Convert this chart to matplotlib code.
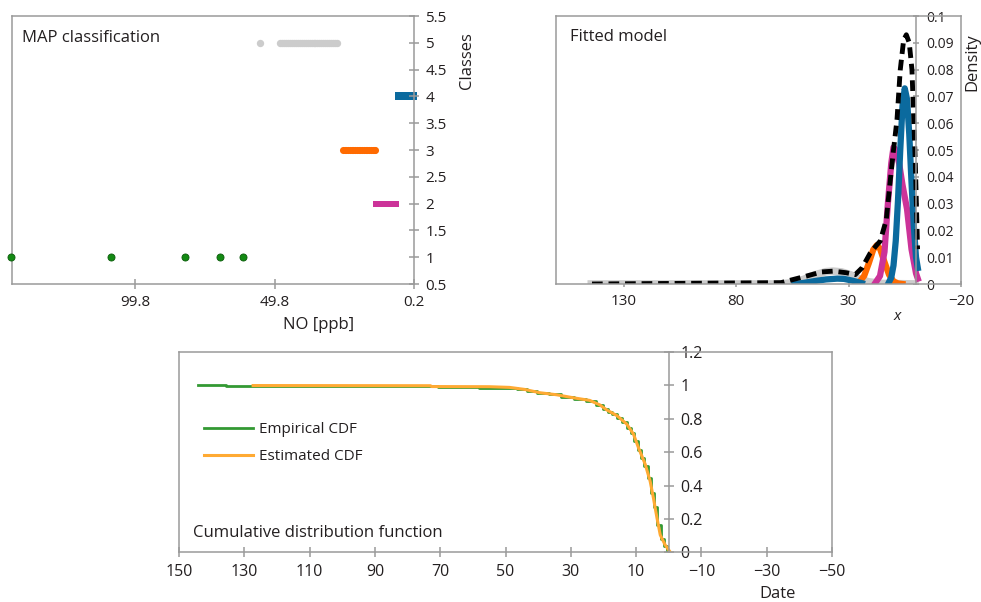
import matplotlib
matplotlib.use("Agg")
import matplotlib.pyplot as plt

plt.rcParams['font.family'] = ['Open Sans', 'DejaVu Sans']

# --- MAP classification (NO in ppb, per class) ---
class1_no = [144.1, 108.4, 82.0, 69.5, 61.2]
class2_no = [13.7, 13.1, 12.4, 11.8, 11.1, 10.5, 9.8, 9.2, 8.5, 7.9, 7.3, 6.7]
class3_no = [25.6, 25.0, 24.4, 23.8, 23.1, 22.5, 21.9, 21.3, 20.6, 20.0,
             19.4, 18.8, 18.1, 17.5, 16.9, 16.3, 15.6, 15.0, 14.4, 14.1]
class4_no = [5.5, 5.0, 4.6, 4.1, 3.6, 3.2, 2.7, 2.3, 1.8, 1.4, 0.9, 0.5]
class5_no = [55.2, 48.0, 47.3, 46.6, 45.9, 45.2, 44.5, 43.8, 43.1, 42.4,
             41.7, 41.0, 40.3, 39.6, 38.9, 38.2, 37.5, 36.8, 36.1, 35.4,
             34.7, 34.0, 33.3, 32.6, 31.9, 31.2, 30.5, 29.8, 29.1, 28.4, 27.7]

# --- fitted model densities ---
gray_x = [146, 60, 55, 50, 45, 40, 37, 33, 29, 25, 21, 15, -1.2]
gray_y = [0, 0, 0.0005, 0.0017, 0.0034, 0.0046, 0.0048, 0.0045, 0.0034,
          0.0018, 0.0008, 0.0002, 0]
blue_small_x = [54, 50, 45, 40, 35, 32, 28, 24]
blue_small_y = [0, 0.0004, 0.0011, 0.0017, 0.0020, 0.0019, 0.0012, 0.0003]
orange_x = [27, 25, 23, 21, 19, 17.4, 16, 14, 12, 10, 8, 6]
orange_y = [0.0002, 0.0009, 0.0031, 0.0077, 0.0128, 0.0145, 0.0132, 0.0082,
            0.0035, 0.0010, 0.0002, 0]
magenta_x = [18, 16, 14, 12.5, 11, 10, 9, 7.5, 6, 4, 2, 0, -0.8]
magenta_y = [0.0005, 0.003, 0.012, 0.030, 0.045, 0.051, 0.050, 0.045, 0.037,
             0.028, 0.013, 0.004, 0.002]
blue_x = [12, 11, 10, 9, 8, 7, 6, 5, 4, 3, 2, 1, 0, -0.8]
blue_y = [0.0007, 0.0024, 0.0069, 0.0161, 0.0312, 0.0500, 0.0664, 0.0730,
          0.0690, 0.0560, 0.0380, 0.0220, 0.0100, 0.0060]
total_x = [144, 60, 48.5, 42, 36.7, 31, 27, 24, 20.3, 17.5, 15.9, 13.2,
           11.4, 10, 8.45, 7, 5.5, 4.3, 3, 1.8, 0.3, -0.7]
total_y = [0, 0.0005, 0.003, 0.0045, 0.0048, 0.0042, 0.0035, 0.006, 0.0116,
           0.0145, 0.016, 0.024, 0.039, 0.05, 0.0613, 0.0799, 0.091, 0.093,
           0.09, 0.08, 0.045, 0.013]

# --- CDFs ---
emp_x = [144.1, 127.3, 73.0, 68.5, 48.0, 45.0, 42.0, 38.5, 35.0, 31.0, 27.0,
         23.5, 21.0, 19.5, 18.0, 16.5, 15.0, 13.5, 12.0, 11.0, 10.0, 9.0, 8.0,
         7.0, 6.0, 5.0, 4.0, 3.0, 2.0, 1.0, 0.2]
emp_F = [1.0, 0.999, 0.996, 0.993, 0.987, 0.978, 0.966, 0.954, 0.946, 0.932,
         0.919, 0.905, 0.882, 0.861, 0.843, 0.827, 0.806, 0.779, 0.743, 0.714,
         0.665, 0.613, 0.566, 0.517, 0.446, 0.355, 0.27, 0.163, 0.08, 0.04, 0.01]
est_x = [127.3, 73.0, 72.6, 55.0, 48.8, 44.2, 39.5, 34.4, 29.3, 24.2, 21.1,
         19.0, 15.9, 12.9, 10.8, 9.3, 7.2, 5.7, 4.7, 3.6, 2.6, 1.1, -0.5]
est_F = [0.999, 0.998, 0.993, 0.992, 0.988, 0.976, 0.956, 0.944, 0.926, 0.91,
         0.883, 0.853, 0.819, 0.769, 0.708, 0.628, 0.527, 0.426, 0.326, 0.205,
         0.104, 0.044, 0.0]

c_gray = '#cccccc'
c_blue = '#0b6a9e'
c_orange = '#ff6a00'
c_magenta = '#cc3399'
c_green = '#138a13'
axis_col = '#9a9a9a'
txt_col = '#231f20'

W, H = 981, 602
fig = plt.figure(figsize=(W / 100, H / 100), dpi=100)


def px_axes(x0, y0, x1, y1):
    return fig.add_axes([x0 / W, 1 - y1 / H, (x1 - x0) / W, (y1 - y0) / H])


def style(ax, fs):
    for s in ax.spines.values():
        s.set_color(axis_col)
        s.set_linewidth(1.1)
    ax.tick_params(direction='inout', length=6.5, width=1.1, color=axis_col,
                   labelcolor=txt_col, labelsize=fs, pad=5)


# ---------------- panel 1 ----------------
ax1 = px_axes(12, 16, 414, 284)
style(ax1, 11)
ax1.set_xlim(143.8, 0.2)
ax1.set_ylim(0.5, 5.5)
ax1.yaxis.tick_right()
ax1.set_yticks([0.5, 1, 1.5, 2, 2.5, 3, 3.5, 4, 4.5, 5, 5.5])
ax1.set_yticklabels(['0.5', '1', '1.5', '2', '2.5', '3', '3.5', '4', '4.5', '5', '5.5'])
ax1.set_xticks([99.8, 49.8, 0.2])
ax1.set_xticklabels(['99.8', '49.8', '0.2'])
ax1.scatter(class5_no, [5] * len(class5_no), s=28, color=c_gray, lw=0, clip_on=False)
ax1.scatter(class4_no, [4] * len(class4_no), s=28, marker='s', color=c_blue, lw=0, clip_on=False)
ax1.scatter(class3_no, [3] * len(class3_no), s=26, color=c_orange, lw=0, clip_on=False)
ax1.scatter(class2_no, [2] * len(class2_no), s=22, marker='s', color=c_magenta, lw=0, clip_on=False)
ax1.scatter(class1_no, [1] * len(class1_no), s=26, color=c_green, edgecolor='#0b5a0b',
            lw=0.6, clip_on=False, zorder=3)
ax1.text(0.024, 0.904, 'MAP classification', transform=ax1.transAxes,
         fontsize=12, color=txt_col, va='baseline')
fig.text(319 / W, 1 - 325 / H, 'NO [ppb]', ha='center', va='center',
         fontsize=12, color=txt_col)
fig.text(467 / W, 1 - 61 / H, 'Classes', ha='center', va='center',
         rotation=90, fontsize=12, color=txt_col)

# ---------------- panel 2 ----------------
ax2 = px_axes(556, 16, 961, 284)
style(ax2, 10)
ax2.set_xlim(160, -20)
ax2.set_ylim(0, 0.1)
ax2.spines['right'].set_position(('data', 0))
ax2.yaxis.tick_right()
ax2.set_yticks([0, 0.01, 0.02, 0.03, 0.04, 0.05, 0.06, 0.07, 0.08, 0.09, 0.1])
ax2.set_yticklabels(['0', '0.01', '0.02', '0.03', '0.04', '0.05', '0.06',
                     '0.07', '0.08', '0.09', '0.1'])
ax2.tick_params(axis='y', length=5)
ax2.tick_params(axis='x', labelsize=11, length=5)
ax2.set_xticks([130, 80, 30, -20])
ax2.set_xticklabels(['130', '80', '30', '\u221220'])
ax2.plot([1, 1], [0, 1], transform=ax2.transAxes, color=axis_col, lw=1.1,
         clip_on=False)
ax2.plot(gray_x, gray_y, color=c_gray, lw=5.5, solid_capstyle='butt')
ax2.plot(orange_x, orange_y, color=c_orange, lw=4.5)
ax2.plot(magenta_x, magenta_y, color=c_magenta, lw=4.5)
ax2.plot(blue_small_x, blue_small_y, color=c_blue, lw=4.5)
ax2.plot(blue_x, blue_y, color=c_blue, lw=4.5)
ax2.plot(total_x, total_y, color='black', lw=3.5, dashes=(2.2, 1.2))
ax2.text(0.035, 0.908, 'Fitted model', transform=ax2.transAxes,
         fontsize=12, color=txt_col, va='baseline')
fig.text(972 / W, 1 - 62 / H, 'Density', ha='center', va='center',
         rotation=90, fontsize=12, color=txt_col)
fig.text(897 / W, 1 - 316 / H, 'x', ha='center', va='center',
         style='italic', fontsize=11, color=txt_col)

# ---------------- panel 3 ----------------
ax3 = px_axes(179, 352, 832, 552.3)
style(ax3, 11.5)
ax3.set_xlim(150, -50)
ax3.set_ylim(0, 1.2)
ax3.spines['right'].set_position(('data', 0))
ax3.yaxis.tick_right()
ax3.set_yticks([0, 0.2, 0.4, 0.6, 0.8, 1, 1.2])
ax3.set_yticklabels(['0', '0.2', '0.4', '0.6', '0.8', '1', '1.2'])
xt3 = [150, 130, 110, 90, 70, 50, 30, 10, -10, -30, -50]
ax3.set_xticks(xt3)
ax3.set_xticklabels([str(v).replace('-', '\u2212') for v in xt3])
ax3.plot([1, 1], [0, 1], transform=ax3.transAxes, color=axis_col, lw=1.1,
         clip_on=False)
ax3.plot(emp_x, emp_F, color='#339933', lw=2.0, drawstyle='steps-mid',
         label='Empirical CDF')
ax3.plot(est_x, est_F, color='#ffaa33', lw=2.2, label='Estimated CDF')
ax3.legend(loc='center left', bbox_to_anchor=(0.038, 0.545), frameon=False,
           borderaxespad=0, borderpad=0, handlelength=3.2, handletextpad=0.4,
           labelspacing=0.75, fontsize=11, labelcolor=txt_col)
ax3.text(0.021, 0.078, 'Cumulative distribution function', transform=ax3.transAxes,
         fontsize=12, color=txt_col, va='baseline')
fig.text(778 / W, 1 - 594 / H, 'Date', ha='center', va='center',
         fontsize=12, color=txt_col)

fig.savefig('out.png', dpi=100)
